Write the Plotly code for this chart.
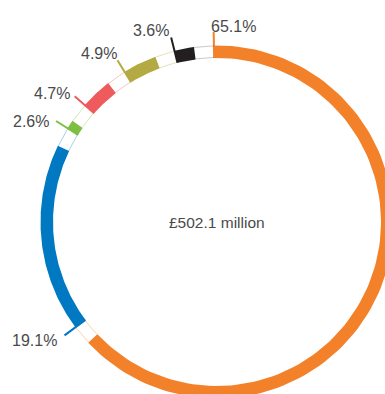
import numpy as np
import plotly.graph_objects as go

# Share of total, clockwise from 12 o'clock
shares = [65.1, 19.1, 2.6, 4.7, 4.9, 3.6]
share_labels = ["65.1%", "19.1%", "2.6%", "4.7%", "4.9%", "3.6%"]
colors = ["#F3812A", "#0079C2", "#7CBF41", "#EF5A5C", "#B3AA44", "#231F20"]
faint_colors = ["rgba(243,129,42,0.45)", "rgba(0,121,194,0.45)", "rgba(124,191,65,0.45)",
                "rgba(239,90,92,0.45)", "rgba(179,170,68,0.45)", "rgba(35,31,32,0.3)"]
total_label = "£502.1 million"

# Label placement relative to the tick end: (xanchor, xshift px, yshift px)
label_place = [("left", -3, 6), ("right", -8, -5), ("right", -7, -1),
               ("right", -5, 3), ("right", 0, 7), ("right", -2, 7)]

# Canvas and ring geometry (axis units are pixels, origin at ring centre)
W, H = 385, 394
CX, CY = 217, 222
R_IN, R_OUT = 164.0, 176.5
R_TICK = 190.0
GAP_DEG = 6.5
START_DEG = -1.0
TEXT = "#4a4a4a"
FONT = "Liberation Sans, Arial, sans-serif"


def arc(r, a0, a1, n=120):
    t = np.radians(np.linspace(a0, a1, n))
    return r * np.sin(t), r * np.cos(t)


fig = go.Figure()
annotations = []

total = sum(shares)
cum = START_DEG
for share, lab, col, faint, (xa, xs, ys) in zip(shares, share_labels, colors, faint_colors, label_place):
    span = share / total * 360.0
    a0, a_end = cum, cum + span
    a1 = a_end - GAP_DEG
    cum = a_end

    # filled part of the segment
    xo, yo = arc(R_OUT, a0, a1)
    xi, yi = arc(R_IN, a1, a0)
    fig.add_trace(go.Scatter(
        x=np.concatenate([xo, xi, xo[:1]]), y=np.concatenate([yo, yi, yo[:1]]),
        mode="lines", fill="toself", fillcolor=col, line=dict(width=0),
        hoverinfo="skip", showlegend=False))

    # outlined remainder of the segment
    gxo, gyo = arc(R_OUT - 0.5, a1, a_end, 40)
    gxi, gyi = arc(R_IN + 0.5, a1, a_end, 40)
    fig.add_trace(go.Scatter(
        x=list(gxo) + [None] + list(gxi), y=list(gyo) + [None] + list(gyi),
        mode="lines", line=dict(color=faint, width=0.8),
        hoverinfo="skip", showlegend=False))

    # leader tick at the start of the segment
    t = np.radians(a0)
    tx, ty = R_TICK * np.sin(t), R_TICK * np.cos(t)
    fig.add_trace(go.Scatter(
        x=[R_IN * np.sin(t), tx], y=[R_IN * np.cos(t), ty],
        mode="lines", line=dict(color=col, width=2),
        hoverinfo="skip", showlegend=False))

    # percentage label at the end of the tick
    annotations.append(dict(
        x=tx, y=ty, xref="x", yref="y", text=lab, showarrow=False,
        xanchor=xa, yanchor="middle", xshift=xs, yshift=ys,
        borderpad=0, borderwidth=0,
        font=dict(family=FONT, size=16, color=TEXT)))

# total in the centre
annotations.append(dict(
    x=0, y=0, xref="x", yref="y", text=total_label, showarrow=False,
    xanchor="center", yanchor="middle", borderpad=0, borderwidth=0,
    font=dict(family=FONT, size=15.5, color=TEXT)))

fig.update_xaxes(range=[-CX, W - CX], visible=False, fixedrange=True)
fig.update_yaxes(range=[-(H - CY), CY], visible=False, fixedrange=True)
fig.update_layout(
    width=W, height=H,
    margin=dict(l=0, r=0, t=0, b=0),
    paper_bgcolor="white", plot_bgcolor="white",
    showlegend=False,
    annotations=annotations,
)

fig.write_html("out.html", config={"displayModeBar": False})
